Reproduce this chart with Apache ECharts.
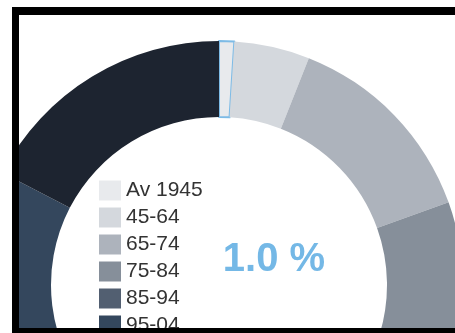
<!DOCTYPE html>
<html>
<head>
<meta charset="utf-8">
<style>
  html, body { margin: 0; padding: 0; background: #ffffff; }
  #chart { width: 455px; height: 333px; }
</style>
<script src="https://cdn.jsdelivr.net/npm/echarts@6/dist/echarts.min.js"></script>
</head>
<body>
<div id="chart"></div>
<script>
// Building stock by construction period (share of total, %)
const periods = ['Av 1945', '45-64', '65-74', '75-84', '85-94', '95-04', '05-14'];
const shares  = [1.0, 5.0, 13.5, 21.0, 23.0, 19.1, 17.4];
const colors  = ['#e8eaed', '#d4d8dd', '#adb3bc', '#868f9a', '#525f71', '#34475d', '#1d2430'];
const selectedIndex = 0;

const total = shares.reduce((a, b) => a + b, 0);
const selectedPct = (shares[selectedIndex] / total * 100).toFixed(1) + ' %';

const font = '"Liberation Sans", Arial, sans-serif';

const chart = echarts.init(document.getElementById('chart'), null, { renderer: 'canvas' });

chart.setOption({
  animation: false,
  backgroundColor: '#ffffff',
  color: colors,
  legend: {
    type: 'plain',
    orient: 'vertical',
    left: 99,
    top: 180,
    height: 400,
    padding: 0,
    icon: 'rect',
    itemWidth: 22,
    itemHeight: 20,
    itemGap: 6,
    selectedMode: false,
    itemStyle: { borderWidth: 0 },
    textStyle: { fontFamily: font, fontSize: 21, color: '#333333', lineHeight: 20 },
    data: periods
  },
  series: [{
    type: 'pie',
    center: [219, 285],
    radius: [168, 244],
    startAngle: 90,
    clockwise: true,
    silent: true,
    label: { show: false },
    labelLine: { show: false },
    itemStyle: { borderWidth: 0 },
    data: periods.map((name, i) => ({
      name: name,
      value: shares[i],
      itemStyle: i === selectedIndex
        ? { color: colors[i], borderColor: '#7dbbe6', borderWidth: 2 }
        : { color: colors[i] }
    }))
  }],
  graphic: [
    {
      type: 'text',
      z: 50,
      x: 274,
      y: 260,
      style: {
        text: selectedPct,
        fill: '#74b8e6',
        font: 'bold 40px ' + font,
        textAlign: 'center',
        textVerticalAlign: 'middle'
      }
    },
    // white surround outside the frame
    { type: 'rect', z: 100, shape: { x: 0, y: 0, width: 12, height: 333 }, style: { fill: '#ffffff' } },
    { type: 'rect', z: 100, shape: { x: 0, y: 0, width: 455, height: 7 }, style: { fill: '#ffffff' } },
    // black frame
    { type: 'rect', z: 101, shape: { x: 12, y: 7, width: 7, height: 326 }, style: { fill: '#000000' } },
    { type: 'rect', z: 101, shape: { x: 12, y: 7, width: 443, height: 8 }, style: { fill: '#000000' } },
    { type: 'rect', z: 101, shape: { x: 12, y: 328, width: 443, height: 5 }, style: { fill: '#000000' } }
  ]
});
</script>
</body>
</html>
